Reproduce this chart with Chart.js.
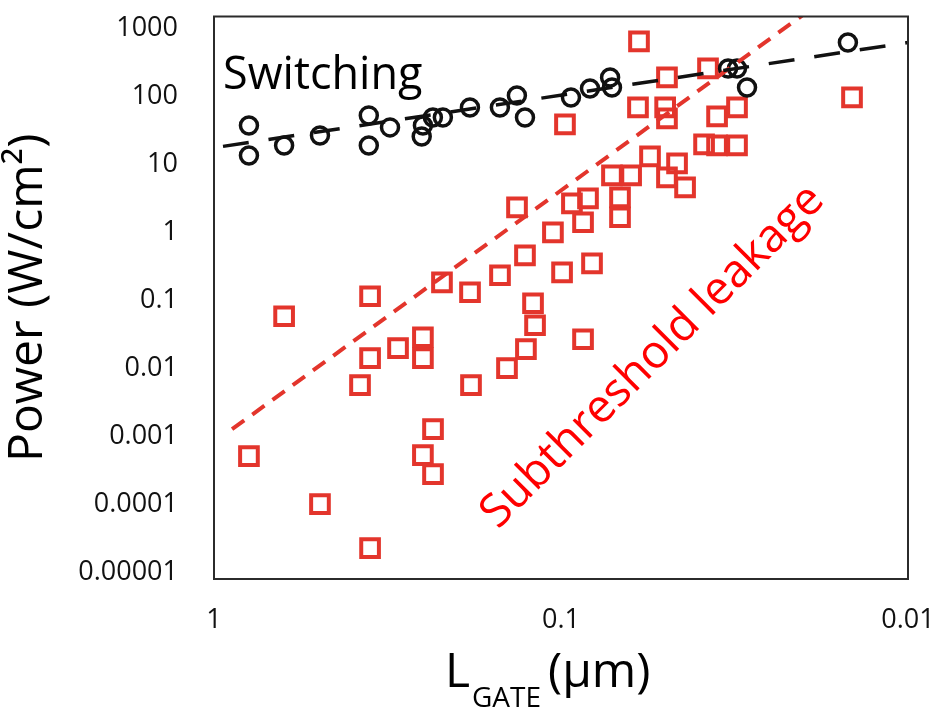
<!DOCTYPE html>
<html>
<head>
<meta charset="utf-8">
<title>Power vs gate length</title>
<script src="https://cdn.jsdelivr.net/npm/chart.js@4.4.1/dist/chart.umd.min.js"></script>
<style>
  html, body { margin: 0; padding: 0; background: #fff; overflow: hidden; }
  #wrap { width: 946px; height: 713px; }
</style>
</head>
<body>
<div id="wrap"><canvas id="powerChart" width="946" height="713"></canvas></div>
<script>
// gate length (um) and power (W/cm2)
const switchingL = [0.793, 0.793, 0.628, 0.495, 0.358, 0.358, 0.311, 0.252, 0.250, 0.234, 0.219,
  0.183, 0.150, 0.134, 0.127, 0.0936, 0.0825, 0.0722, 0.0713, 0.0330, 0.0311, 0.0291, 0.0149];
const switchingP = [37.6, 13.6, 19.1, 26.8, 52.8, 19.1, 35.2, 25.9, 37.6, 49.3, 49.3,
  69.2, 69.2, 103.8, 49.3, 97.0, 131.5, 190.8, 136.0, 258.6, 258.6, 136.0, 622.9];

const leakageL = [0.0596, 0.0495, 0.0377, 0.0145, 0.0600, 0.0501, 0.0495, 0.0355, 0.0311, 0.0387,
  0.0355, 0.0311, 0.0554, 0.0713, 0.0628, 0.0463, 0.0495, 0.0439, 0.0836, 0.0676,
  0.0676, 0.0864, 0.0930, 0.0814, 0.0993, 0.0974, 0.0864, 0.1339, 0.1055, 0.1270,
  0.1499, 0.2203, 0.1829, 0.355, 0.628, 0.1204, 0.1188, 0.250, 0.250, 0.2949,
  0.355, 0.3795, 0.1262, 0.1431, 0.1817, 0.2338, 0.250, 0.2338, 0.793, 0.495, 0.355];
const leakageP = [645, 191, 259, 97, 69.2, 69.2, 47.7, 51.0, 69.2, 19.8,
  19.1, 19.1, 13.2, 6.94, 6.94, 10.4, 6.49, 4.63, 3.19, 3.30,
  1.68, 1.42, 2.69, 0.354, 0.261, 38.9, 0.0271, 2.35, 1.01, 0.464,
  0.236, 0.186, 0.1328, 0.1161, 0.0590, 0.0916, 0.0435, 0.0290, 0.01427, 0.0200,
  0.01427, 0.00573, 0.01933, 0.01017, 0.00573, 0.001293, 0.000537, 0.000282, 0.000519, 0.0001024, 0.0000231];

// trend lines (end points)
const switchingFitL = [0.942, 0.01];
const switchingFitP = [18.5, 622];
const leakageFitL = [0.887, 0.0202];
const leakageFitP = [0.00129, 1550];

const xTicks = [0.01, 0.1, 1];
const xTickLabels = ["0.01", "0.1", "1"];
const yTicks = [0.00001, 0.0001, 0.001, 0.01, 0.1, 1, 10, 100, 1000];
const yTickLabels = ["0.00001", "0.0001", "0.001", "0.01", "0.1", "1", "10", "100", "1000"];

const toPoints = (xs, ys) => xs.map((x, i) => ({ x: x, y: ys[i] }));

const FONT = "'Open Sans', 'Noto Sans', sans-serif";

// frame around the plot + the text labels
const decorations = {
  id: "decorations",
  afterDraw(chart) {
    const ctx = chart.ctx;
    const a = chart.chartArea;
    ctx.save();
    ctx.strokeStyle = "#2b2b2b";
    ctx.lineWidth = 2;
    ctx.strokeRect(a.left, a.top, a.right - a.left, a.bottom - a.top);

    ctx.fillStyle = "#000";
    ctx.textBaseline = "alphabetic";
    ctx.textAlign = "left";
    ctx.font = "45px " + FONT;
    ctx.fillText("Switching", a.left + 9, a.top + 72);

    // x axis title with subscript
    ctx.font = "48px " + FONT;
    ctx.fillText("L", 445, 687);
    ctx.font = "28px " + FONT;
    ctx.fillText("GATE", 472, 707);
    ctx.font = "48px " + FONT;
    ctx.fillText("(\u03bcm)", 548, 687);

    // rotated label along the leakage trend
    ctx.translate(498, 530);
    ctx.rotate(-Math.PI / 4);
    ctx.fillStyle = "#ff0000";
    ctx.font = "46px " + FONT;
    ctx.fillText("Subthreshold leakage", 0, 0);
    ctx.restore();
  }
};

const chart = new Chart(document.getElementById("powerChart"), {
  type: "scatter",
  data: {
    datasets: [
      {
        type: "line",
        data: toPoints(switchingFitL, switchingFitP),
        borderColor: "#111",
        borderWidth: 3.5,
        borderDash: [26, 20],
        pointRadius: 0,
        fill: false
      },
      {
        type: "line",
        data: toPoints(leakageFitL, leakageFitP),
        borderColor: "#e3352c",
        borderWidth: 4,
        borderDash: [15, 10],
        pointRadius: 0,
        fill: false
      },
      {
        data: toPoints(switchingL, switchingP),
        pointStyle: "circle",
        pointRadius: 8.5,
        borderWidth: 3.5,
        borderColor: "#111",
        backgroundColor: "rgba(0,0,0,0)"
      },
      {
        data: toPoints(leakageL, leakageP),
        pointStyle: "rect",
        pointRadius: 12.5,
        borderWidth: 4,
        borderColor: "#e3352c",
        backgroundColor: "rgba(0,0,0,0)"
      }
    ]
  },
  options: {
    responsive: false,
    animation: false,
    layout: { padding: { top: 16, right: 38, left: 0, bottom: 0 } },
    plugins: {
      legend: { display: false },
      tooltip: { enabled: false }
    },
    scales: {
      x: {
        type: "logarithmic",
        min: 0.01,
        max: 1,
        reverse: true,
        grid: { display: false, drawTicks: false },
        border: { display: false },
        afterBuildTicks: (scale) => {
          scale.ticks = xTicks.map((v) => ({ value: v }));
        },
        afterFit: (scale) => {
          scale.height = 134;
          scale.paddingLeft = 0;
          scale.paddingRight = 0;
        },
        ticks: {
          padding: 25,
          color: "#111",
          font: { family: FONT, size: 27 },
          callback: (value) => xTickLabels[xTicks.indexOf(value)]
        }
      },
      y: {
        type: "logarithmic",
        min: 0.00000811,
        max: 1500,
        grid: { display: false, drawTicks: false },
        border: { display: false },
        afterBuildTicks: (scale) => {
          scale.ticks = yTicks.map((v) => ({ value: v }));
        },
        afterFit: (scale) => {
          scale.width = 214;
          scale.paddingTop = 0;
          scale.paddingBottom = 0;
        },
        ticks: {
          padding: 36,
          color: "#111",
          font: { family: FONT, size: 27 },
          callback: (value) => yTickLabels[yTicks.indexOf(value)]
        },
        title: {
          display: true,
          text: "Power (W/cm\u00b2)",
          color: "#000",
          font: { family: FONT, size: 48 },
          padding: { top: 0, bottom: 0 }
        }
      }
    }
  },
  plugins: [decorations]
});
</script>
</body>
</html>
